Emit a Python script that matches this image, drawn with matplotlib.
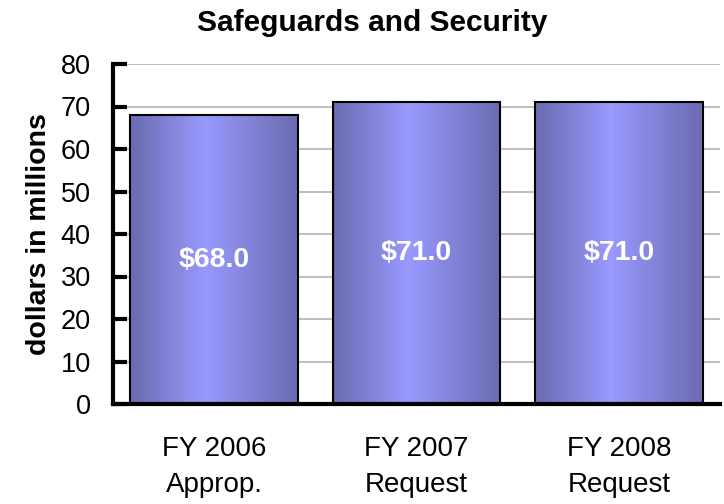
import matplotlib
matplotlib.use("Agg")
import matplotlib.pyplot as plt
import numpy as np
from matplotlib.colors import LinearSegmentedColormap

categories = ["FY 2006\nApprop.", "FY 2007\nRequest", "FY 2008\nRequest"]
values = [68.0, 71.0, 71.0]
labels = ["$68.0", "$71.0", "$71.0"]
yticks = [0, 10, 20, 30, 40, 50, 60, 70, 80]

plt.rcParams['font.family'] = ['Liberation Sans', 'DejaVu Sans']

fig = plt.figure(figsize=(7.24, 5.04), dpi=100)
ax = fig.add_axes([113/724, 1-404/504, (720-113)/724, (404-64)/504])

cmap = LinearSegmentedColormap.from_list("g", [(0, "#6b6bb0"), (0.45, "#9999ff"), (1, "#6b6bb0")])
grad = np.linspace(0, 1, 256).reshape(1, -1)

x = np.arange(len(categories))
width = 0.83
bars = ax.bar(x, values, width=width, color="none", edgecolor="black", linewidth=1.5, zorder=3)
for b, lab in zip(bars, labels):
    x0, y0 = b.get_x(), b.get_y()
    w, h = b.get_width(), b.get_height()
    im = ax.imshow(grad, extent=[x0, x0 + w, y0, y0 + h], aspect="auto", cmap=cmap, zorder=2)
    im.set_clip_path(b)
    ax.text(x0 + w/2, h/2, lab, ha="center", va="center", color="white",
            fontsize=20.5, fontweight="bold", zorder=4)

ax.set_xlim(-0.5, len(categories) - 0.5)
ax.set_ylim(0, 80)
ax.set_yticks(yticks)
ax.yaxis.grid(True, color="#c0c0c0", linewidth=1.5, zorder=0)
ax.set_axisbelow(True)
ax.set_xticks(x)
ax.set_xticklabels(categories, fontsize=20, linespacing=1.5)
ax.tick_params(axis="x", length=0, pad=23)
ax.tick_params(axis="y", direction="in", length=10, width=3, labelsize=19.5, pad=16)
for s in ["top", "right"]:
    ax.spines[s].set_visible(False)
ax.spines["left"].set_linewidth(3)
ax.spines["bottom"].set_linewidth(3)
ax.set_ylabel("dollars in millions", fontsize=20.5, fontweight="bold", labelpad=6)
fig.text(372/724, 1 - 31/504, "Safeguards and Security", fontsize=21.5,
         fontweight="bold", ha="center", va="baseline")

fig.savefig("out.png", dpi=100)
